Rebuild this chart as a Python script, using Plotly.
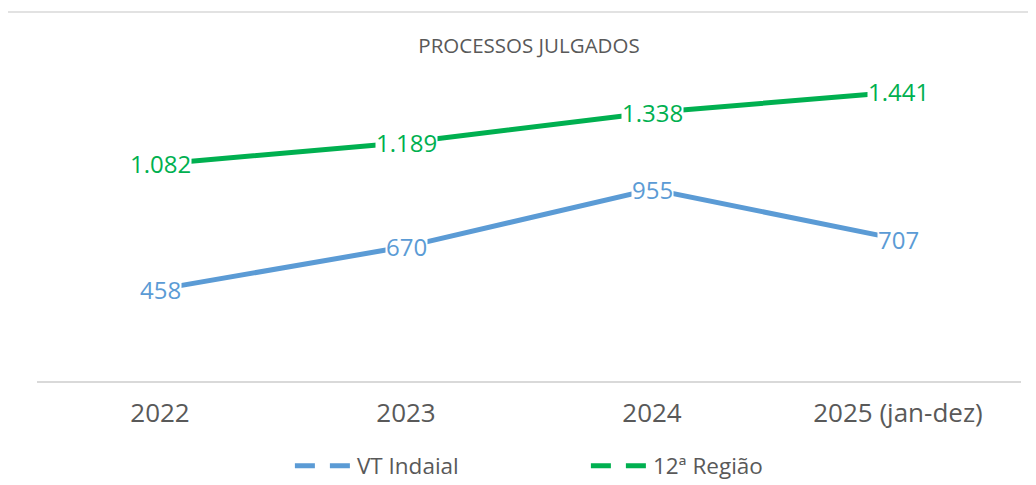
import plotly.graph_objects as go

categories = ["2022", "2023", "2024", "2025 (jan-dez)"]
vt_indaial = [458, 670, 955, 707]
regiao_12 = [1082, 1189, 1338, 1441]

series = [
    ("VT Indaial", vt_indaial, "#5B9BD5"),
    ("12ª Região", regiao_12, "#00B050"),
]

FONT = "Open Sans"
GRAY = "#595959"

# the page body has an 8px margin, so the figure is drawn 8px smaller
W, H = 1028, 477

fig = go.Figure()

for name, vals, color in series:
    fig.add_trace(go.Scatter(
        x=categories, y=vals, mode="lines", name=name,
        line=dict(color=color, width=5), showlegend=False,
        hoverinfo="x+y",
    ))
    # legend entry with dashed symbol
    fig.add_trace(go.Scatter(
        x=[None], y=[None], mode="lines", name=name,
        line=dict(color=color, width=5, dash="20px,15px"),
        showlegend=True,
    ))

annotations = []
for name, vals, color in series:
    for i, v in enumerate(vals):
        annotations.append(dict(
            x=i, y=v, xref="x", yref="y",
            text=f"{v:,}".replace(",", "."),
            showarrow=False, bgcolor="white", borderpad=0,
            font=dict(family=FONT, size=24, color=color),
        ))

fig.update_layout(
    width=W, height=H,
    margin=dict(l=29, r=15, t=52, b=104, autoexpand=False),
    paper_bgcolor="white", plot_bgcolor="white",
    font=dict(family=FONT, color=GRAY),
    title=dict(text="PROCESSOS JULGADOS", x=0.5, xref="paper", xanchor="center",
               y=1 - 38 / H, yref="container", yanchor="middle",
               font=dict(family=FONT, size=20.5, color=GRAY)),
    showlegend=True,
    legend=dict(orientation="h", x=0.257, xanchor="left", y=-0.265, yanchor="middle",
                font=dict(family=FONT, size=22.5, color=GRAY), entrywidth=224,
                itemwidth=57, bgcolor="rgba(0,0,0,0)"),
    annotations=annotations,
    shapes=[dict(type="rect", xref="paper", yref="paper",
                 x0=-0.0305, x1=1.2, y0=-0.6, y1=1.1495,
                 line=dict(color="#D9D9D9", width=1.5), fillcolor="rgba(0,0,0,0)",
                 layer="below")],
)

fig.update_xaxes(
    type="category", showgrid=False, zeroline=False,
    showline=True, linecolor="#D9D9D9", linewidth=1.5,
    ticks="", ticklabelstandoff=8,
    tickfont=dict(family=FONT, size=26, color=GRAY),
    range=[-0.5, 3.5], automargin=False,
)
fig.update_yaxes(range=[0, 1600], visible=False, showgrid=False, zeroline=False)

fig.write_html("out.html")
